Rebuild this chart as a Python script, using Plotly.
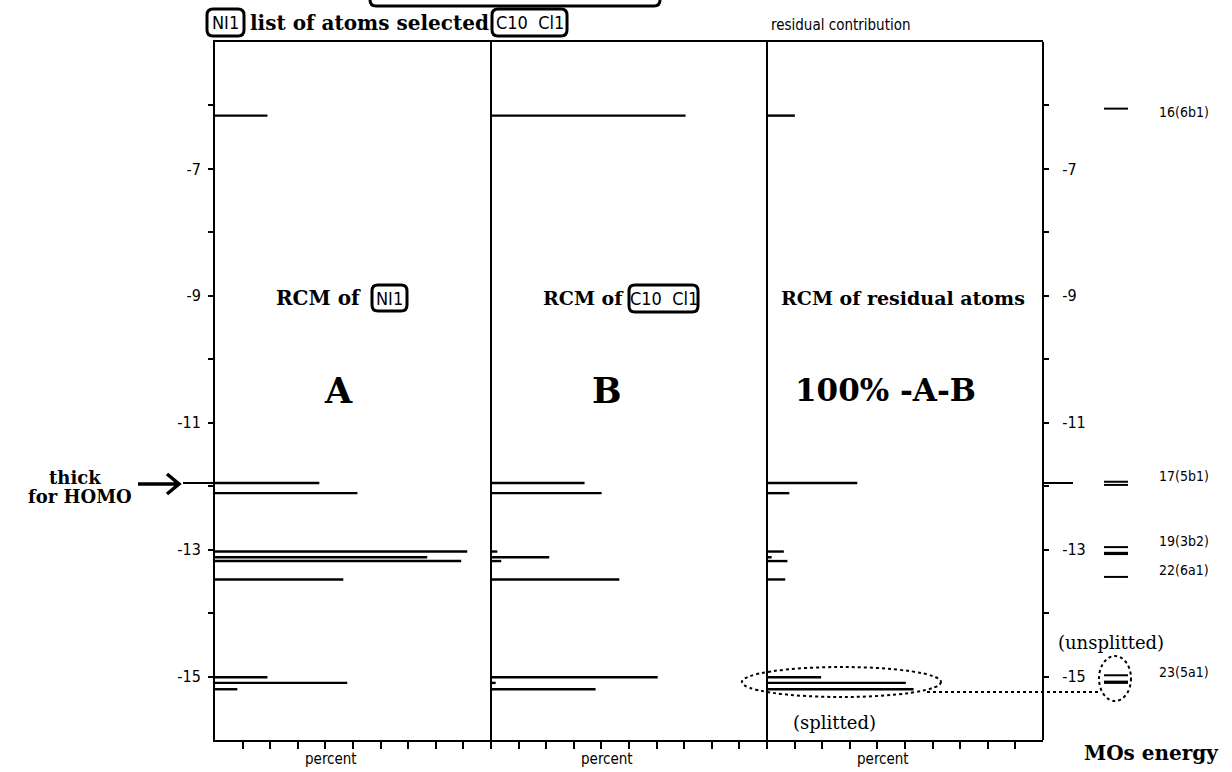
import plotly.graph_objects as go

# ---------------- data ----------------
energies = [-6.16, -11.95, -12.11, -13.03, -13.12, -13.18, -13.47, -15.01, -15.10, -15.20]
pct_A = [19.0, 37.8, 51.6, 91.4, 76.9, 89.2, 46.5, 19.0, 47.9, 8.1]
pct_B = [70.5, 33.9, 40.1, 2.3, 21.1, 3.7, 46.5, 60.4, 1.7, 37.9]
pct_C = [10.1, 32.7, 8.1, 6.1, 1.7, 7.4, 6.6, 19.6, 50.3, 53.1]
homo_energy = -11.95

mo_levels = [-6.05, -11.93, -11.98, -12.96, -13.05, -13.07, -13.43, -14.98, -15.08, -15.10]
mo_labels = ["16(6b1)", "17(5b1)", "19(3b2)", "22(6a1)", "23(5a1)"]
mo_label_energy = [-6.10, -11.84, -12.86, -13.32, -14.93]

y_tickvals = [-7, -9, -11, -13, -15]
y_ticktext = ["-7", "-9", "-11", "-13", "-15"]
y_minor = [-6, -8, -10, -12, -14]
x_ticks_A = [10, 20, 30, 40, 50, 60, 70, 80, 90]
x_ticks_BC = [0, 10, 20, 30, 40, 50, 60, 70, 80, 90]

# ---------------- geometry helpers ----------------
W, H = 1232, 772
ML, MR, MT, MB = 215, 0, 42, 32
PW, PH = W - ML - MR, H - MT - MB


def px(x):
    return (x - ML) / PW


def py(y):
    return (H - MB - y) / PH


def rbox(x0, y0, x1, y1, r=6):
    pts = [
        ("M", x0 + r, y0), ("L", x1 - r, y0), ("Q", x1, y0, x1, y0 + r),
        ("L", x1, y1 - r), ("Q", x1, y1, x1 - r, y1), ("L", x0 + r, y1),
        ("Q", x0, y1, x0, y1 - r), ("L", x0, y0 + r), ("Q", x0, y0, x0 + r, y0),
    ]
    out = []
    for p in pts:
        cmd = p[0]
        coords = p[1:]
        s = []
        for i in range(0, len(coords), 2):
            s.append(f"{px(coords[i]):.5f},{py(coords[i+1]):.5f}")
        out.append(cmd + " " + " ".join(s))
    return " ".join(out) + " Z"


panel_w = 276 / PW
dom_A = [0, panel_w]
dom_B = [panel_w, 2 * panel_w]
dom_C = [2 * panel_w, 3 * panel_w]
dom_MO = [px(1104), px(1128)]

fig = go.Figure()


def bars(pcts, xa):
    xs, ys = [], []
    for e, p in zip(energies, pcts):
        xs += [0, p, None]
        ys += [e, e, None]
    fig.add_trace(go.Scatter(x=xs, y=ys, mode="lines", xaxis=xa, yaxis="y",
                             line=dict(color="black", width=2.4),
                             hoverinfo="skip", showlegend=False))


bars(pct_A, "x")
bars(pct_B, "x2")
bars(pct_C, "x3")

# MO energy column
xs, ys = [], []
for e in mo_levels:
    xs += [0, 1, None]
    ys += [e, e, None]
fig.add_trace(go.Scatter(x=xs, y=ys, mode="lines", xaxis="x4", yaxis="y",
                         line=dict(color="black", width=2),
                         hoverinfo="skip", showlegend=False))
# empty trace so that the right-hand energy axis is drawn
fig.add_trace(go.Scatter(x=[None], y=[None], mode="lines", xaxis="x3", yaxis="y2",
                         hoverinfo="skip", showlegend=False))

narrow = "DejaVu Sans Condensed, Liberation Sans Narrow, sans-serif"
serif = "DejaVu Serif, Liberation Serif, serif"

xcommon = dict(range=[0, 100], showline=True, mirror=True, linecolor="black", linewidth=2,
               ticks="outside", ticklen=7, tickwidth=2, tickcolor="black",
               showticklabels=False, showgrid=False, zeroline=False, fixedrange=True)

ycommon = dict(range=[-16, -5], showline=True, linecolor="black", linewidth=2,
               ticks="outside", ticklen=5, tickwidth=2, tickcolor="black",
               tickvals=y_tickvals, ticktext=y_ticktext,
               minor=dict(tickvals=y_minor, ticks="outside", ticklen=5, tickwidth=2, tickcolor="black"),
               tickfont=dict(family=narrow, size=16, color="black"),
               showgrid=False, zeroline=False, fixedrange=True)

fig.update_layout(
    width=W, height=H,
    margin=dict(l=ML, r=MR, t=MT, b=MB),
    paper_bgcolor="white", plot_bgcolor="white",
    showlegend=False,
    xaxis=dict(domain=dom_A, anchor="y", tickvals=x_ticks_A, **xcommon),
    xaxis2=dict(domain=dom_B, anchor="y", tickvals=x_ticks_BC, **xcommon),
    xaxis3=dict(domain=dom_C, anchor="y", tickvals=x_ticks_BC, **xcommon),
    xaxis4=dict(domain=dom_MO, anchor="y", range=[0, 1], visible=False, fixedrange=True),
    yaxis=dict(anchor="x", ticklabelstandoff=4, **ycommon),
    yaxis2=dict(overlaying="y", anchor="free", position=3 * panel_w, side="right",
                ticklabelstandoff=10, **ycommon),
)

shapes = []
# panel dividers
for d in [dom_B[0], dom_C[0]]:
    shapes.append(dict(type="line", xref="paper", yref="paper", x0=d, x1=d, y0=0, y1=1,
                       line=dict(color="black", width=2)))
# HOMO marks outside frame
shapes.append(dict(type="line", xref="paper", yref="y", x0=px(183), x1=px(215),
                   y0=homo_energy, y1=homo_energy, line=dict(color="black", width=2)))
shapes.append(dict(type="line", xref="paper", yref="y", x0=px(1043), x1=px(1073),
                   y0=homo_energy, y1=homo_energy, line=dict(color="black", width=2)))
# arrow
shapes.append(dict(type="path", xref="paper", yref="paper",
                   path=f"M {px(138)},{py(484)} L {px(178)},{py(484)} "
                        f"M {px(167)},{py(474)} L {px(179)},{py(484)} L {px(167)},{py(494)}",
                   line=dict(color="black", width=3.5)))
# rounded boxes
for b in [(207, 9, 244, 36), (492, 9, 567, 36), (370, -20, 660, 6),
          (372, 285, 407, 311), (629, 285, 698, 312)]:
    shapes.append(dict(type="path", xref="paper", yref="paper", path=rbox(*b),
                       line=dict(color="black", width=3)))
# dotted ellipses and connector
shapes.append(dict(type="circle", xref="paper", yref="paper", x0=px(742), x1=px(941),
                   y0=py(667), y1=py(697), line=dict(color="black", width=2, dash="dot")))
shapes.append(dict(type="circle", xref="paper", yref="paper", x0=px(1099), x1=px(1131),
                   y0=py(656), y1=py(701), line=dict(color="black", width=2, dash="dot")))
shapes.append(dict(type="line", xref="paper", yref="paper", x0=px(927), x1=px(1100),
                   y0=py(692), y1=py(692), line=dict(color="black", width=2, dash="dot")))
fig.update_layout(shapes=shapes)

ann = []


def text(x, y, s, font, size, bold=False, xanchor="center"):
    ann.append(dict(xref="paper", yref="paper", x=px(x), y=py(y), text=(f"<b>{s}</b>" if bold else s),
                    showarrow=False, xanchor=xanchor, yanchor="middle",
                    font=dict(family=font, size=size, color="black")))


text(225.5, 22.5, "NI1", narrow, 18)
text(369, 23, "list of atoms selected", serif, 20, bold=True)
text(529.5, 22.5, "C10&nbsp;&nbsp;Cl1", narrow, 18)
text(841, 25, "residual contribution", narrow, 15)

text(318.5, 298, "RCM of", serif, 20, bold=True)
text(389.5, 298, "NI1", narrow, 18)
text(583, 298, "RCM of", serif, 19, bold=True)
text(663.5, 298.5, "C10&nbsp;&nbsp;Cl1", narrow, 18)
text(903, 298, "RCM of residual atoms", serif, 19, bold=True)

text(338, 390, "A", serif, 35, bold=True)
text(607, 390, "B", serif, 35, bold=True)
text(885, 390, "100% -A-B", serif, 31, bold=True)

text(75, 477, "thick", serif, 18, bold=True)
text(80, 497, "for HOMO", serif, 18, bold=True)

text(834, 722, "(splitted)", serif, 18)
text(1111, 642, "(unsplitted)", serif, 18)
text(1151, 753, "MOs energy", serif, 20, bold=True)

for xa in ["x", "x2", "x3"]:
    ann.append(dict(xref=xa, yref="paper", x=42, y=py(759), text="percent", showarrow=False,
                    xanchor="center", yanchor="middle", font=dict(family=narrow, size=15, color="black")))

for lab, e in zip(mo_labels, mo_label_energy):
    ann.append(dict(xref="paper", yref="y", x=px(1157), y=e, text=lab, showarrow=False,
                    xanchor="left", yanchor="middle", font=dict(family=narrow, size=14, color="black")))

fig.update_layout(annotations=ann)

fig.write_html("out.html", post_script="document.body.style.margin='0';",
               config={"displayModeBar": False})
